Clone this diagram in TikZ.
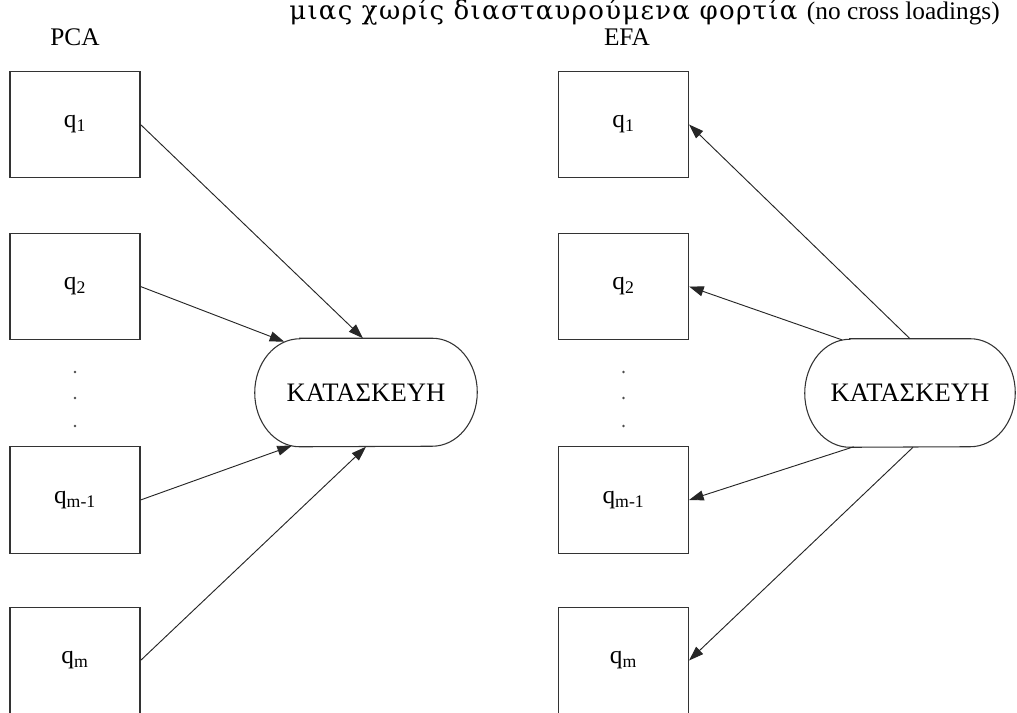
\documentclass[tikz,border=0pt]{standalone}
\usepackage{fontspec}
\setmainfont{Liberation Serif}
\newfontfamily\grtitle[LetterSpace=5]{DejaVu Serif}
\usetikzlibrary{arrows.meta,calc}
\begin{document}
\begin{tikzpicture}[
        x=0.75pt, y=-0.75pt,
        font=\fontsize{19}{22}\selectfont,
        box/.style={draw=black!80, line width=0.8pt, minimum width=97.5pt, minimum height=80pt, inner sep=0pt},
        construct/.style={minimum height=81pt, inner sep=0pt, font=\fontsize{20}{24}\selectfont},
        outline/.style={draw=black!80, line width=0.8pt},
        link/.style={draw=black!85, line width=0.7pt},
        load/.style={link, -{Triangle[length=11pt, width=7.5pt]}},
        dot/.style={circle, fill=black!70, inner sep=0pt, minimum size=2.2pt}
    ]
    \useasboundingbox (0,0) rectangle (1017,713);
    \clip (0,0) rectangle (1017,713);

    \node[anchor=base east, inner sep=0pt] (title) at (1000,20) {{\grtitle\fontsize{19.5}{22}\selectfont μιας χωρίς διασταυρούμενα φορτία }(no cross loadings)};
    \node[anchor=base] (pcaLbl) at (75,46) {PCA};
    \node[anchor=base] (efaLbl) at (627,46) {EFA};

    \node[box] (q1) at (75,124.5) {q\textsubscript{1}};
    \node[box] (q2) at (75,286.5) {q\textsubscript{2}};
    \node[box] (qm1) at (75,500) {q\textsubscript{m-1}};
    \node[box] (qm) at (75,660.5) {q\textsubscript{m}};
    \node[dot] (qd1) at (75,372) {};
    \node[dot] (qd2) at (75,398) {};
    \node[dot] (qd3) at (75,426) {};

    \node[box] (r1) at (623.5,124.5) {q\textsubscript{1}};
    \node[box] (r2) at (623.5,286.5) {q\textsubscript{2}};
    \node[box] (rm1) at (623.5,500) {q\textsubscript{m-1}};
    \node[box] (rm) at (623.5,660.5) {q\textsubscript{m}};
    \node[dot] (rd1) at (623.5,372) {};
    \node[dot] (rd2) at (623.5,398) {};
    \node[dot] (rd3) at (623.5,426) {};

    \node[construct, minimum width=166.5pt] (pca) at (366,392.5) {ΚΑΤΑΣΚΕΥΗ};
    \node[construct, minimum width=157.5pt] (efa) at (910,393) {ΚΑΤΑΣΚΕΥΗ};

    \draw[outline] ($(pca.north west)+(45,0)$) -- ($(pca.north east)+(-45,0)$)
        arc[start angle=90, end angle=-90, x radius=33.75pt, y radius=40.5pt]
        -- ($(pca.south west)+(45,0)$)
        arc[start angle=270, end angle=90, x radius=33.75pt, y radius=40.5pt] -- cycle;
    \draw[outline] ($(efa.north west)+(45,0)$) -- ($(efa.north east)+(-45,0)$)
        arc[start angle=90, end angle=-90, x radius=33.75pt, y radius=40.5pt]
        -- ($(efa.south west)+(45,0)$)
        arc[start angle=270, end angle=90, x radius=33.75pt, y radius=40.5pt] -- cycle;

    \coordinate (pcaA) at ($(pca.west)+(45,0)+(110:33.75pt and 40.5pt)$);
    \coordinate (pcaB) at ($(pca.west)+(45,0)+(-100:33.75pt and 40.5pt)$);
    \coordinate (efaA) at ($(efa.west)+(45,0)+(100:33.75pt and 40.5pt)$);
    \coordinate (efaB) at ($(efa.west)+(45,0)+(-85:33.75pt and 40.5pt)$);

    \draw[load] (q1.east) -- ($(pca.north)+(-3,0)$);
    \draw[load] (q2.east) -- (pcaA);
    \draw[load] (qm1.east) -- (pcaB);
    \draw[load] (qm.east) -- (pca.south);

    \draw[load] (efa.north) -- (r1.east);
    \draw[load] (efaA) -- (r2.east);
    \draw[load] (efaB) -- (rm1.east);
    \draw[load] ($(efa.south)+(3,0)$) -- (rm.east);
\end{tikzpicture}
\end{document}
